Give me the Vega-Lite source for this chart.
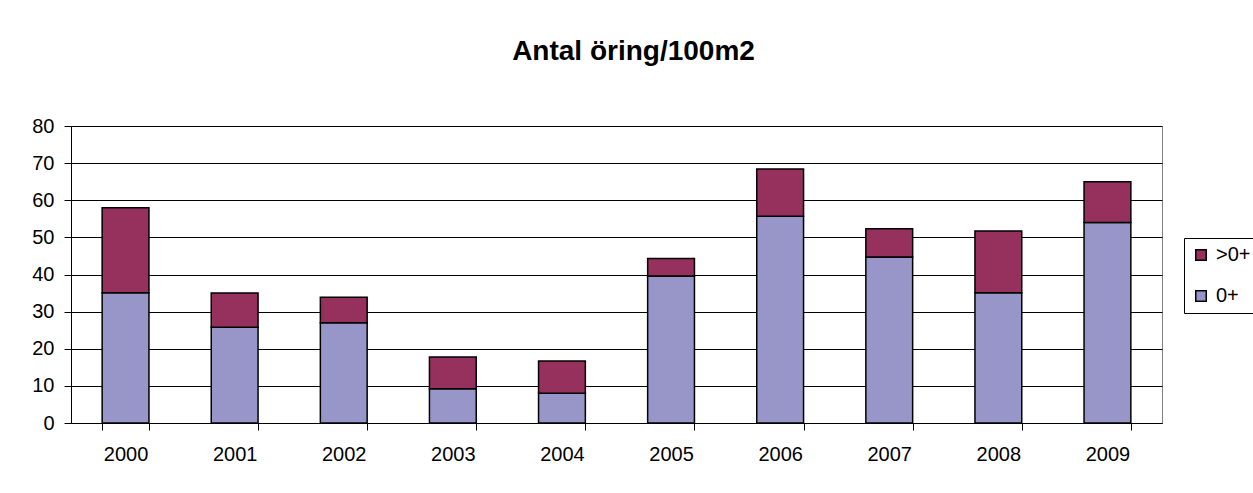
{
  "$schema": "https://vega.github.io/schema/vega-lite/v6.json",
  "width": 1091,
  "height": 297,
  "autosize": {"type": "none"},
  "padding": {"left": 71, "top": 126, "right": 91, "bottom": 70},
  "background": "white",
  "config": {
    "font": "Liberation Sans",
    "view": {"stroke": "#808080", "strokeWidth": 1}
  },
  "title": {
    "text": "Antal öring/100m2",
    "fontSize": 28,
    "fontWeight": "bold",
    "color": "black",
    "font": "Liberation Sans",
    "anchor": "middle",
    "frame": "group",
    "baseline": "alphabetic",
    "offset": 28,
    "dx": 17
  },
  "data": {
    "values": [
      {"year": "2000", "age": "0+", "value": 35.1},
      {"year": "2000", "age": ">0+", "value": 22.9},
      {"year": "2001", "age": "0+", "value": 25.8},
      {"year": "2001", "age": ">0+", "value": 9.2},
      {"year": "2002", "age": "0+", "value": 27.0},
      {"year": "2002", "age": ">0+", "value": 6.9},
      {"year": "2003", "age": "0+", "value": 9.2},
      {"year": "2003", "age": ">0+", "value": 8.6},
      {"year": "2004", "age": "0+", "value": 8.0},
      {"year": "2004", "age": ">0+", "value": 8.7},
      {"year": "2005", "age": "0+", "value": 39.6},
      {"year": "2005", "age": ">0+", "value": 4.7},
      {"year": "2006", "age": "0+", "value": 55.7},
      {"year": "2006", "age": ">0+", "value": 12.7},
      {"year": "2007", "age": "0+", "value": 44.7},
      {"year": "2007", "age": ">0+", "value": 7.6},
      {"year": "2008", "age": "0+", "value": 35.1},
      {"year": "2008", "age": ">0+", "value": 16.6},
      {"year": "2009", "age": "0+", "value": 54.0},
      {"year": "2009", "age": ">0+", "value": 11.0}
    ]
  },
  "mark": {"type": "bar", "stroke": "black", "strokeWidth": 1.5},
  "encoding": {
    "x": {
      "field": "year",
      "type": "nominal",
      "scale": {"paddingInner": 0.571, "paddingOuter": 0.2855},
      "axis": {
        "title": null,
        "labelAngle": 0,
        "labelFontSize": 20,
        "labelColor": "black",
        "labelPadding": 14,
        "tickBand": "extent",
        "tickSize": 7,
        "tickColor": "black",
        "domainColor": "black",
        "grid": false
      }
    },
    "y": {
      "field": "value",
      "type": "quantitative",
      "stack": "zero",
      "scale": {"domain": [0, 80], "nice": false},
      "axis": {
        "title": null,
        "values": [0, 10, 20, 30, 40, 50, 60, 70, 80],
        "labelFontSize": 20,
        "labelColor": "black",
        "labelPadding": 10,
        "tickSize": 7,
        "tickColor": "black",
        "domainColor": "black",
        "grid": true,
        "gridColor": "black",
        "gridOpacity": 1,
        "gridWidth": 1
      }
    },
    "color": {
      "field": "age",
      "type": "nominal",
      "scale": {"domain": [">0+", "0+"], "range": ["#96315e", "#9896c8"]},
      "legend": {
        "title": null,
        "orient": "none",
        "legendX": 1113,
        "legendY": 112,
        "symbolType": "square",
        "symbolSize": 110,
        "symbolStrokeColor": "black",
        "symbolStrokeWidth": 1.5,
        "labelFontSize": 20,
        "labelColor": "black",
        "labelOffset": 5,
        "rowPadding": 21,
        "padding": 7,
        "strokeColor": "black",
        "fillColor": "white"
      }
    },
    "order": {"field": "age", "sort": "ascending"}
  }
}
